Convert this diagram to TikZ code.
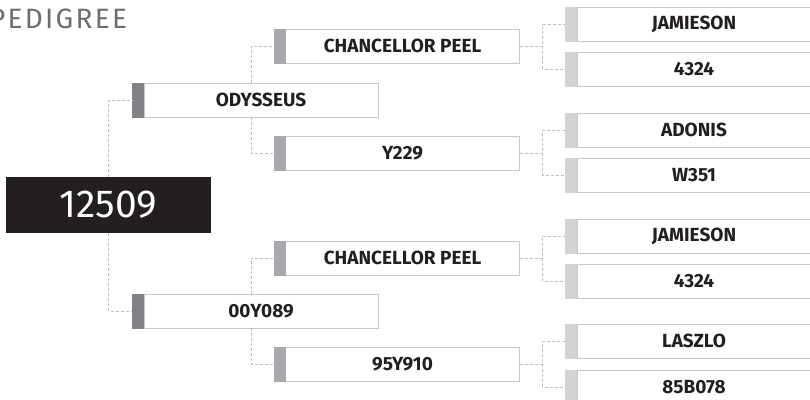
\documentclass[tikz,border=0pt]{standalone}
\usepackage{fontspec}
\setmainfont{Fira Sans}
\usetikzlibrary{positioning}

\definecolor{rootblack}{HTML}{231F20}
\definecolor{tabdark}{HTML}{808285}
\definecolor{tabmid}{HTML}{A7A9AC}
\definecolor{tablight}{HTML}{D1D3D4}
\definecolor{boxline}{HTML}{C7C8CA}
\definecolor{linkgray}{HTML}{BCBEC0}
\definecolor{titlegray}{HTML}{6D6E71}

\begin{document}
\begin{tikzpicture}[
    x=1pt, y=-1pt,
    title/.style={text=titlegray, inner sep=0pt, font=\addfontfeature{LetterSpace=8}\fontsize{28}{32}\selectfont},
    root/.style={rectangle, fill=rootblack, text=white, minimum width=205pt, minimum height=56pt, inner sep=0pt, outer sep=0pt, font=\fontsize{39}{44}\selectfont},
    entry/.style={rectangle, draw=boxline, line width=1pt, fill=white, minimum width=234pt, minimum height=34pt, inner sep=0pt, outer sep=0pt, text=rootblack, font=\bfseries\fontsize{19}{22}\selectfont},
    tab/.style={rectangle, minimum width=12pt, minimum height=35pt, inner sep=0pt, outer sep=0pt},
    link/.style={draw=linkgray, line width=0.8pt, dash pattern=on 3pt off 2pt}
]
    \useasboundingbox (0,0) rectangle (810,399);

    % Title
    \node[title, anchor=base west] (title) at (-11,28) {PEDIGREE};

    % Animal
    \node[root] (root) at (108.5,205) {12509};

    % Parents
    \node[entry] (ody) at (261,100) {ODYSSEUS};
    \node[tab, fill=tabdark, left=0pt of ody] (ody-tab) {};
    \node[entry] (y089) at (261,311) {00Y089};
    \node[tab, fill=tabdark, left=0pt of y089] (y089-tab) {};

    % Grandparents
    \node[entry] (cp1) at (402.5,46) {CHANCELLOR PEEL};
    \node[tab, fill=tabmid, left=0pt of cp1] (cp1-tab) {};
    \node[entry] (y229) at (402.5,153) {Y229};
    \node[tab, fill=tabmid, left=0pt of y229] (y229-tab) {};
    \node[entry] (cp2) at (402.5,258) {CHANCELLOR PEEL};
    \node[tab, fill=tabmid, left=0pt of cp2] (cp2-tab) {};
    \node[entry] (y910) at (402.5,364) {95Y910};
    \node[tab, fill=tabmid, left=0pt of y910] (y910-tab) {};

    % Great-grandparents
    \node[entry] (jam1) at (694,24) {JAMIESON};
    \node[tab, fill=tablight, left=0pt of jam1] (jam1-tab) {};
    \node[entry] (n4324a) at (694,69) {4324};
    \node[tab, fill=tablight, left=0pt of n4324a] (n4324a-tab) {};
    \node[entry] (adonis) at (694,130) {ADONIS};
    \node[tab, fill=tablight, left=0pt of adonis] (adonis-tab) {};
    \node[entry] (w351) at (694,175) {W351};
    \node[tab, fill=tablight, left=0pt of w351] (w351-tab) {};
    \node[entry] (jam2) at (694,236) {JAMIESON};
    \node[tab, fill=tablight, left=0pt of jam2] (jam2-tab) {};
    \node[entry] (n4324b) at (694,281) {4324};
    \node[tab, fill=tablight, left=0pt of n4324b] (n4324b-tab) {};
    \node[entry] (laszlo) at (694,341) {LASZLO};
    \node[tab, fill=tablight, left=0pt of laszlo] (laszlo-tab) {};
    \node[entry] (b078) at (694,387) {85B078};
    \node[tab, fill=tablight, left=0pt of b078] (b078-tab) {};

    % Connections
    \draw[link] (root.north) |- (ody-tab.west);
    \draw[link] (root.south) |- (y089-tab.west);

    \draw[link] ([xshift=107pt]ody.north west) |- (cp1-tab.west);
    \draw[link] ([xshift=107pt]ody.south west) |- (y229-tab.west);
    \draw[link] ([xshift=107pt]y089.north west) |- (cp2-tab.west);
    \draw[link] ([xshift=107pt]y089.south west) |- (y910-tab.west);

    \draw[link] (cp1.east) -- ++(23,0) coordinate (cp1-fork) |- (jam1-tab.west);
    \draw[link] (cp1-fork) |- (n4324a-tab.west);
    \draw[link] (y229.east) -- ++(23,0) coordinate (y229-fork) |- (adonis-tab.west);
    \draw[link] (y229-fork) |- (w351-tab.west);
    \draw[link] (cp2.east) -- ++(23,0) coordinate (cp2-fork) |- (jam2-tab.west);
    \draw[link] (cp2-fork) |- (n4324b-tab.west);
    \draw[link] (y910.east) -- ++(23,0) coordinate (y910-fork) |- (laszlo-tab.west);
    \draw[link] (y910-fork) |- (b078-tab.west);

\end{tikzpicture}
\end{document}
